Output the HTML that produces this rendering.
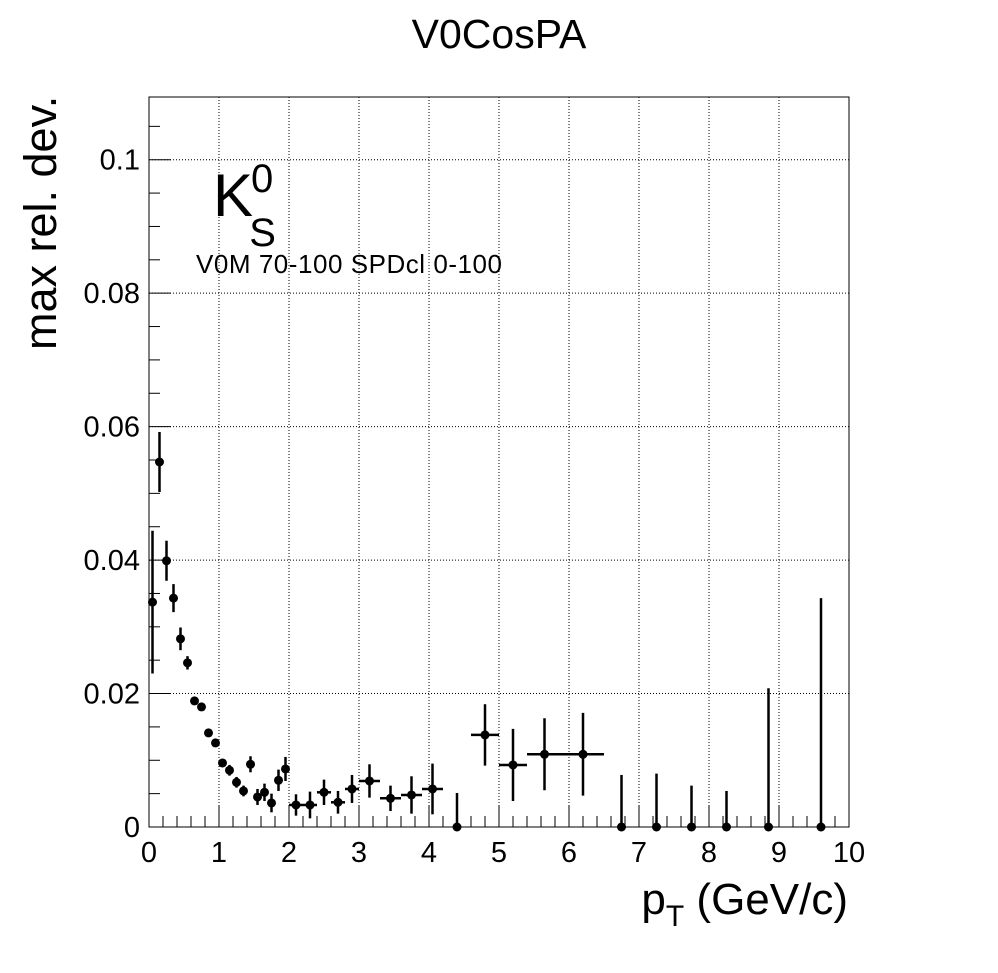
<!DOCTYPE html>
<html><head><meta charset="utf-8"><style>
body{margin:0;background:#fff}
svg{display:block;font-family:"Liberation Sans",sans-serif}
</style></head><body>
<svg id="c" width="998" height="973">
<rect width="998" height="973" fill="#fff"/>
<text x="499" y="48" font-size="41" text-anchor="middle">V0CosPA</text>
<g id="grid"></g>
<g id="axes"></g>
<g id="pts"></g>
<text x="213" y="216" font-size="60">K<tspan dx="-2" dy="-24" font-size="40">0</tspan><tspan dx="-24" dy="54" font-size="40">S</tspan></text>
<text x="196" y="273" font-size="26" textLength="306">V0M 70-100 SPDcl 0-100</text>
<text x="848" y="914" font-size="44" text-anchor="end">p<tspan dy="12" font-size="30">T</tspan><tspan dy="-12"> (GeV/c)</tspan></text>
<text transform="translate(56,350) rotate(-90)" font-size="45">max rel. dev.</text>
</svg>
<script>
const xs=[0.05,0.15,0.25,0.35,0.45,0.55,0.65,0.75,0.85,0.95,1.05,1.15,1.25,1.35,1.45,1.55,1.65,1.75,1.85,1.95,2.1,2.3,2.5,2.7,2.9,3.15,3.45,3.75,4.05,4.4,4.8,5.2,5.65,6.2,6.75,7.25,7.75,8.25,8.85,9.6];
const xerrs=[0.05,0.05,0.05,0.05,0.05,0.05,0.05,0.05,0.05,0.05,0.05,0.05,0.05,0.05,0.05,0.05,0.05,0.05,0.05,0.05,0.1,0.1,0.1,0.1,0.1,0.15,0.15,0.15,0.15,0,0.2,0.2,0.25,0.3,0,0,0,0,0,0];
const ys=[0.0337,0.0547,0.0399,0.0343,0.0282,0.0246,0.0189,0.018,0.0141,0.0126,0.0096,0.0085,0.0067,0.0054,0.0094,0.0045,0.0052,0.0036,0.007,0.0087,0.0033,0.0033,0.0052,0.0037,0.0057,0.0069,0.0043,0.0048,0.0057,0,0.0138,0.0093,0.0109,0.0109,0,0,0,0,0,0];
const yerrs=[0.0107,0.0045,0.003,0.0021,0.0017,0.001,0.0004,0.0004,0.0004,0.0005,0.0006,0.0008,0.0008,0.0008,0.0012,0.0012,0.0013,0.0014,0.0016,0.0018,0.0016,0.002,0.0019,0.0017,0.0021,0.0025,0.0019,0.0028,0.0038,0.0051,0.0046,0.0054,0.0054,0.0062,0.0078,0.008,0.0062,0.0054,0.0208,0.0343];
const xTicks=[0,1,2,3,4,5,6,7,8,9,10];
const yTicks=[0,0.02,0.04,0.06,0.08,0.1];
const yTickLabels=["0","0.02","0.04","0.06","0.08","0.1"];
const X0=149,X1=849,Y0=827,Y1=97,YMAX=0.1094;
const sx=v=>X0+(X1-X0)*v/10, sy=v=>Y0-(Y0-Y1)*v/YMAX;
const NS="http://www.w3.org/2000/svg";
function mk(p,t,a){const e=document.createElementNS(NS,t);for(const k in a)e.setAttribute(k,a[k]);p.appendChild(e);return e;}
const grid=document.getElementById('grid'),axes=document.getElementById('axes'),pts=document.getElementById('pts');
xTicks.forEach((t,i)=>{if(t>0&&t<10){const l=mk(grid,'line',{x1:sx(t),x2:sx(t),y1:Y0,y2:Y1,stroke:'#000','stroke-dasharray':'1,2','stroke-width':1});

}});
yTicks.forEach(t=>{if(t>0){const l=mk(grid,'line',{x1:X0,x2:X1,y1:sy(t),y2:sy(t),stroke:'#000','stroke-dasharray':'1,2','stroke-width':1});

}});
const fr=mk(axes,'rect',{x:X0,y:Y1,width:X1-X0,height:Y0-Y1,fill:'none',stroke:'#000','stroke-width':1});


for(let i=0;i<=50;i++){const v=i*0.2,big=i%5==0;mk(axes,'line',{x1:sx(v),x2:sx(v),y1:Y0,y2:Y0-(big?22:11),stroke:'#000'});}
for(let i=0;i<=21;i++){const v=i*0.005,big=i%4==0;mk(axes,'line',{x1:X0,x2:X0+(big?22:11),y1:sy(v),y2:sy(v),stroke:'#000'});}
xTicks.forEach(t=>{const e=mk(axes,'text',{x:sx(t),y:Y0+35,'font-size':29,'text-anchor':'middle'});e.textContent=String(t);

});
yTicks.forEach((t,i)=>{const e=mk(axes,'text',{x:X0-9,y:sy(t)+10,'font-size':29,'text-anchor':'end'});e.textContent=yTickLabels[i];

});
xs.forEach((x,i)=>{const g=mk(pts,'g',{});


const cx=sx(x),cy=sy(ys[i]);
mk(g,'line',{x1:cx,x2:cx,y1:sy(ys[i]+yerrs[i]),y2:Math.min(Y0,sy(ys[i]-yerrs[i])),stroke:'#000','stroke-width':2.5});
if(xerrs[i]>0)mk(g,'line',{x1:sx(x-xerrs[i]),x2:sx(x+xerrs[i]),y1:cy,y2:cy,stroke:'#000','stroke-width':2.5});
mk(g,'circle',{cx:cx,cy:cy,r:4.5,fill:'#000'});});
</script>
</body></html>
